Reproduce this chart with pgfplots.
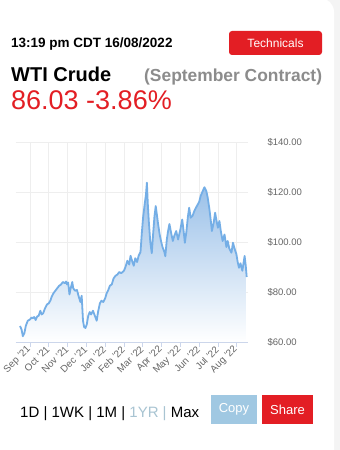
\documentclass[border=0pt]{standalone}
\usepackage{fontspec}
\setmainfont{Liberation Sans}
\usepackage{pgfplots}
\pgfplotsset{compat=1.18}
\usepackage{pgfplotstable}
\definecolor{redbtn}{HTML}{E31E24}
\definecolor{copyblue}{HTML}{A0C8E2}
\definecolor{linecol}{HTML}{74AEE6}
\definecolor{fillcol}{HTML}{98BFE8}
\definecolor{gridcol}{HTML}{EEEEEE}
\definecolor{axiscol}{HTML}{CCD6EB}
\definecolor{labgray}{HTML}{666666}
\definecolor{subgray}{HTML}{8C8C8C}
\definecolor{yrcol}{HTML}{A8C4D2}
\definecolor{bggray}{HTML}{F4F4F4}

\pgfplotstableread{
m v
-0.53 66.4
-0.45 65.0
-0.38 62.3
-0.30 63.5
-0.22 66.5
-0.12 68.5
0.00 69.0
0.08 69.8
0.15 69.5
0.22 70.0
0.30 68.8
0.38 70.2
0.46 70.5
0.55 72.5
0.62 71.0
0.70 71.5
0.80 73.5
0.90 75.0
1.00 75.5
1.08 76.5
1.15 78.0
1.25 79.5
1.35 80.5
1.45 81.5
1.55 82.5
1.65 83.0
1.75 84.0
1.85 83.5
1.92 84.2
1.97 83.0
2.03 83.8
2.10 79.0
2.15 81.0
2.25 84.0
2.30 81.5
2.40 80.5
2.50 80.8
2.58 78.5
2.68 76.0
2.75 78.5
2.82 68.5
2.88 66.0
2.95 65.6
3.02 67.0
3.10 70.5
3.18 72.0
3.25 71.0
3.35 72.5
3.45 70.5
3.55 68.5
3.62 72.0
3.72 75.5
3.80 76.5
3.90 76.0
4.00 77.5
4.08 79.5
4.15 80.5
4.25 82.5
4.35 83.0
4.45 85.5
4.55 86.5
4.65 87.0
4.75 88.0
4.85 87.5
5.00 88.5
5.08 90.0
5.18 92.5
5.28 91.0
5.35 94.5
5.45 92.0
5.52 90.5
5.60 93.5
5.70 92.0
5.78 94.5
5.88 96.0
5.95 103.5
6.02 110.0
6.10 115.0
6.17 119.0
6.22 123.7
6.27 115.0
6.32 108.5
6.40 100.0
6.48 95.5
6.55 103.0
6.62 110.0
6.69 114.4
6.75 111.0
6.82 107.0
6.90 103.0
6.97 100.4
7.05 98.0
7.15 96.0
7.20 94.3
7.28 101.0
7.35 104.5
7.42 107.2
7.50 104.0
7.60 100.4
7.68 102.5
7.78 104.4
7.88 101.0
8.00 105.0
8.10 109.0
8.18 104.0
8.24 99.7
8.32 104.0
8.40 110.0
8.47 113.7
8.55 109.7
8.65 110.5
8.75 112.5
8.88 114.4
9.00 116.0
9.08 118.4
9.20 120.5
9.28 121.9
9.38 120.4
9.45 118.0
9.55 113.0
9.62 108.5
9.68 104.4
9.78 108.0
9.85 111.7
9.95 107.5
10.00 105.7
10.08 108.4
10.15 104.5
10.25 100.4
10.35 103.0
10.45 98.0
10.52 100.4
10.60 97.5
10.72 95.7
10.80 99.7
10.90 97.0
10.98 95.2
11.05 92.0
11.12 89.7
11.20 91.5
11.30 88.5
11.35 91.0
11.42 94.4
11.48 90.5
11.53 86.0
}\wti

\begin{document}
\begin{tikzpicture}
\useasboundingbox (0pt,0pt) rectangle (340pt,450pt);
% background and card
\fill[bggray] (0pt,0pt) rectangle (340pt,450pt);
\fill[white, rounded corners=14pt] (-30pt,-30pt) rectangle (334pt,452pt);

% header
\node[anchor=base west, inner sep=0pt] at (11pt,402pt)
  {\fontsize{13.5}{16}\selectfont\bfseries 13:19 pm CDT 16/08/2022};
\fill[redbtn, rounded corners=3pt] (229pt,395pt) rectangle (322pt,419pt);
\node[anchor=center, inner sep=0pt, text=white] at (275.5pt,407pt)
  {\fontsize{12}{14}\selectfont Technicals};
\node[anchor=base west, inner sep=0pt] at (11pt,368pt)
  {\fontsize{20}{24}\selectfont\bfseries WTI Crude};
\node[anchor=base west, inner sep=0pt, text=subgray] at (144pt,368pt)
  {\fontsize{17.4}{20}\selectfont\bfseries (September Contract)};
\node[anchor=base west, inner sep=0pt, text=redbtn] at (11pt,340pt)
  {\fontsize{27}{30}\selectfont 86.03 -3.86\%};

\begin{axis}[
  at={(16pt,108pt)}, anchor=south west,
  width=232pt, height=200pt, scale only axis,
  xmin=-0.745, xmax=11.6,
  ymin=60, ymax=140,
  axis x line*=bottom,
  axis y line*=right,
  x axis line style={draw=axiscol, line width=0.8pt},
  y axis line style={draw=none},
  xtick={0,...,11},
  xticklabels={Sep '21,Oct '21,Nov '21,Dec '21,Jan '22,Feb '22,Mar '22,Apr '22,May '22,Jun '22,Jul '22,Aug '22},
  ytick={60,80,100,120,140},
  yticklabels={\$60.00,\$80.00,\$100.00,\$120.00,\$140.00},
  yticklabel pos=right,
  xmajorgrids, ymajorgrids,
  grid style={draw=gridcol, line width=0.6pt},
  tick align=outside,
  major tick length=5pt,
  xtick style={draw=axiscol, line width=0.8pt},
  ytick style={draw=none},
  x tick label style={rotate=45, anchor=east, font=\fontsize{9.8}{11}\selectfont, text=labgray, inner sep=1pt},
  y tick label style={anchor=west, xshift=11pt, font=\fontsize{9.5}{11}\selectfont, text=labgray},
  clip=true,
]
\addplot[top color=fillcol, bottom color=white, draw=none, forget plot] table[x=m, y=v] {\wti} \closedcycle;
\addplot[draw=linecol, line width=1.8pt, line join=round] table[x=m, y=v] {\wti};
\end{axis}

% bottom controls
\node[anchor=base west, inner sep=0pt] at (20pt,32pt)
  {\fontsize{15}{18}\selectfont 1D | 1WK | 1M | \textcolor{yrcol}{1YR |} Max};
\fill[copyblue] (211pt,26pt) rectangle (257pt,55pt);
\node[anchor=center, inner sep=0pt, text=white] at (234pt,40.5pt)
  {\fontsize{13}{15}\selectfont Copy};
\fill[redbtn] (262pt,26pt) rectangle (313pt,55pt);
\node[anchor=center, inner sep=0pt, text=white] at (287.5pt,40.5pt)
  {\fontsize{13}{15}\selectfont Share};
\end{tikzpicture}
\end{document}
